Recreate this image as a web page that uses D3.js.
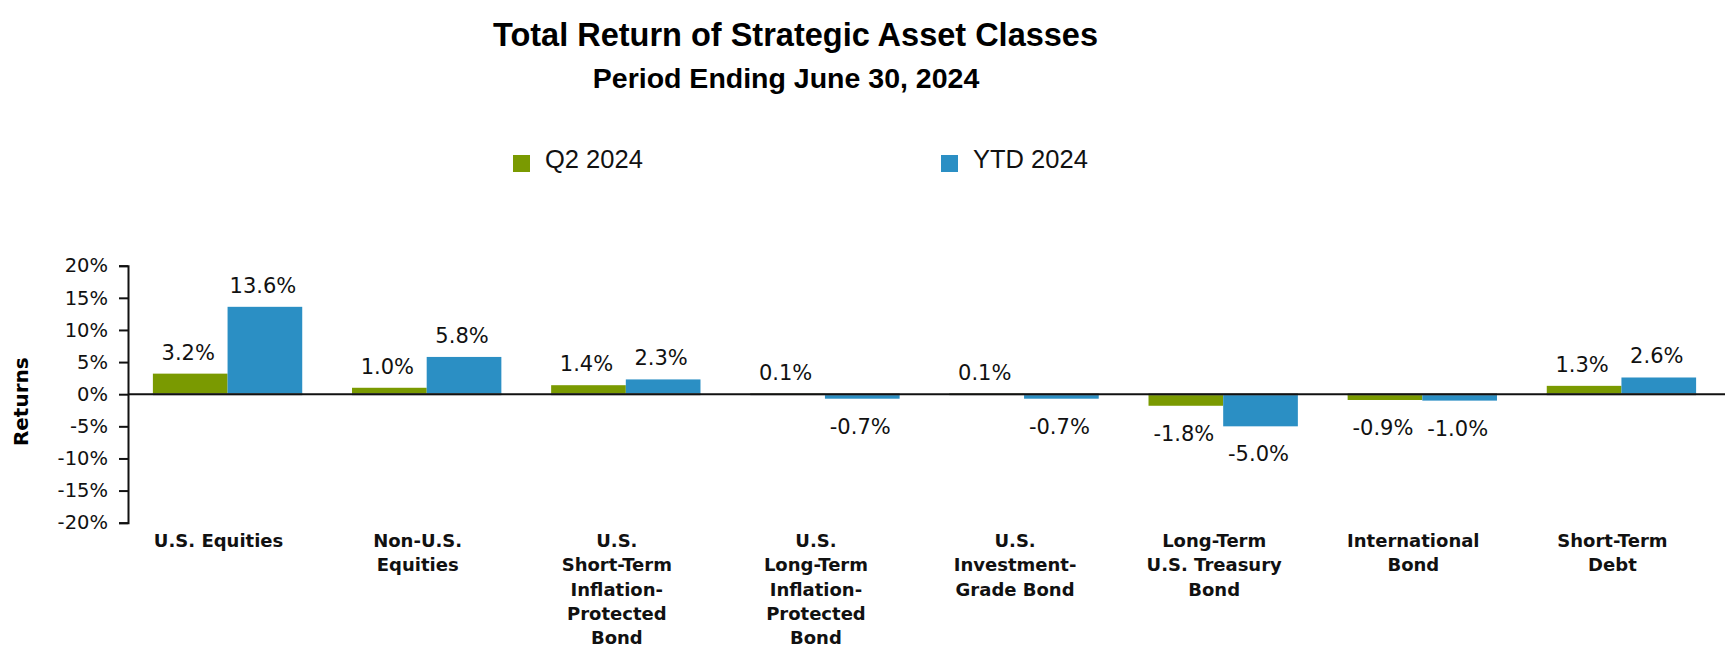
<!DOCTYPE html>
<html>
<head>
<meta charset="utf-8">
<script src="https://cdn.jsdelivr.net/npm/d3@7"></script>
<style>
  body { margin: 0; background: #fff; }
  svg { display: block; }
</style>
</head>
<body>
<div id="chart"></div>
<script>
// data
const categories = [
  ["U.S. Equities"],
  ["Non-U.S.", "Equities"],
  ["U.S.", "Short-Term", "Inflation-", "Protected", "Bond"],
  ["U.S.", "Long-Term", "Inflation-", "Protected", "Bond"],
  ["U.S.", "Investment-", "Grade Bond"],
  ["Long-Term", "U.S. Treasury", "Bond"],
  ["International", "Bond"],
  ["Short-Term", "Debt"]
];
const seriesNames = ["Q2 2024", "YTD 2024"];
const q2Values = [3.2, 1.0, 1.4, 0.1, 0.1, -1.8, -0.9, 1.3];
const ytdValues = [13.6, 5.8, 2.3, -0.7, -0.7, -5.0, -1.0, 2.6];
const yTicks = [-20, -15, -10, -5, 0, 5, 10, 15, 20];
const colors = ["#7a9a01", "#2b8fc4"];

var width = 1725;
var height = 652;

const svg = d3.select("#chart").append("svg")
  .attr("width", width)
  .attr("height", height);

// titles
svg.append("text")
  .attr("x", 795.5).attr("y", 46)
  .attr("text-anchor", "middle")
  .attr("font-family", "'Liberation Sans', Arial, sans-serif")
  .attr("font-weight", "bold")
  .attr("font-size", 32.5)
  .text("Total Return of Strategic Asset Classes");

svg.append("text")
  .attr("x", 786).attr("y", 88)
  .attr("text-anchor", "middle")
  .attr("font-family", "'Liberation Sans', Arial, sans-serif")
  .attr("font-weight", "bold")
  .attr("font-size", 28.5)
  .text("Period Ending June 30, 2024");

// legend
const legend = svg.append("g")
  .selectAll("g")
  .data(seriesNames)
  .join("g")
  .attr("transform", (d, i) => `translate(${513 + i * 428},155)`);

legend.append("rect")
  .attr("width", 17).attr("height", 17)
  .attr("fill", (d, i) => colors[i]);

legend.append("text")
  .attr("x", 32).attr("y", 13.3)
  .attr("font-family", "'Liberation Sans', Arial, sans-serif")
  .attr("font-size", 25.5)
  .attr("fill", "#111")
  .text(d => d);

// scales
var x0 = d3.scaleBand()
  .domain(d3.range(categories.length))
  .range([128, 1721])
  .paddingInner(0.25)
  .paddingOuter(0.125);

var x1 = d3.scaleBand()
  .domain(d3.range(seriesNames.length))
  .range([0, x0.bandwidth()]);

var y = d3.scaleLinear()
  .domain([-20, 20])
  .range([522.7, 265.7]);

const rows = categories.map((c, i) => ({ i: i, vals: [q2Values[i], ytdValues[i]] }));

// bars
const groups = svg.append("g")
  .selectAll("g")
  .data(rows)
  .join("g")
  .attr("transform", d => `translate(${x0(d.i)},0)`);

groups.selectAll("rect")
  .data(d => d.vals.map((v, s) => ({ s: s, v: v })))
  .join("rect")
  .attr("x", d => x1(d.s))
  .attr("width", x1.bandwidth())
  .attr("y", d => y(Math.max(0, d.v)))
  .attr("height", d => Math.abs(y(d.v) - y(0)))
  .attr("fill", d => colors[d.s]);

// zero line, grey where it crosses the bars
svg.append("line")
  .attr("x1", 128).attr("x2", width)
  .attr("y1", y(0)).attr("y2", y(0))
  .attr("stroke", "#111")
  .attr("stroke-width", 2);

groups.append("line")
  .attr("x1", 0).attr("x2", x0.bandwidth())
  .attr("y1", y(0)).attr("y2", y(0))
  .attr("stroke", "#999")
  .attr("stroke-width", 2);

// value labels
groups.selectAll("text.val")
  .data(d => d.vals.map((v, s) => ({ s: s, v: v })))
  .join("text")
  .attr("class", "val")
  .attr("x", d => x1(d.s) + x1.bandwidth() / 2 - 2)
  .attr("y", d => d.v >= 0 ? y(d.v) - 14 : y(d.v) + 35)
  .attr("text-anchor", "middle")
  .attr("font-family", "'DejaVu Sans', sans-serif")
  .attr("font-size", 21)
  .attr("fill", "#111")
  .text(d => d.v.toFixed(1) + "%");

// y axis
const yAxis = svg.append("g")
  .attr("transform", "translate(128,0)")
  .call(d3.axisLeft(y)
    .tickValues(yTicks)
    .tickFormat(d => d + "%")
    .tickSize(9)
    .tickPadding(11));

yAxis.selectAll("path, line")
  .attr("stroke", "#111")
  .attr("stroke-width", 2);

yAxis.selectAll("text")
  .attr("font-family", "'DejaVu Sans', sans-serif")
  .attr("font-size", 19.5)
  .attr("fill", "#111");

svg.append("text")
  .attr("transform", "translate(28,401.7) rotate(-90)")
  .attr("text-anchor", "middle")
  .attr("font-family", "'DejaVu Sans', sans-serif")
  .attr("font-weight", "bold")
  .attr("font-size", 20)
  .text("Returns");

// category labels
svg.append("g")
  .selectAll("text")
  .data(rows)
  .join("text")
  .attr("text-anchor", "middle")
  .attr("font-family", "'DejaVu Sans', sans-serif")
  .attr("font-weight", "bold")
  .attr("font-size", 18)
  .attr("fill", "#111")
  .each(function (d) {
    const t = d3.select(this);
    const cx = x0(d.i) + x0.bandwidth() / 2 - 9;
    categories[d.i].forEach((line, k) => {
      t.append("tspan")
        .attr("x", cx)
        .attr("y", 546.7 + k * 24.4)
        .text(line);
    });
  });
</script>
</body>
</html>
